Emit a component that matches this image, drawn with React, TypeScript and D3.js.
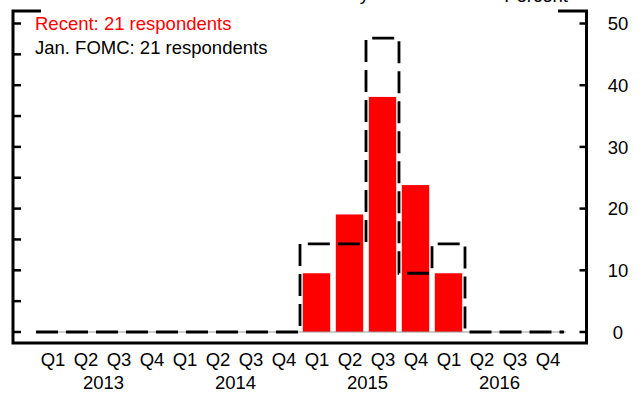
import React, { useEffect, useRef } from 'react';
import * as d3 from 'd3';

const quarters = ['Q1', 'Q2', 'Q3', 'Q4', 'Q1', 'Q2', 'Q3', 'Q4', 'Q1', 'Q2', 'Q3', 'Q4', 'Q1', 'Q2', 'Q3', 'Q4'];
const years = ['2013', '2014', '2015', '2016'];
// percent of 21 respondents
const recent = [0, 0, 0, 0, 0, 0, 0, 0, 9.52, 19.05, 38.1, 23.81, 9.52, 0, 0, 0];
const janFomc = [0, 0, 0, 0, 0, 0, 0, 0, 14.29, 14.29, 47.62, 9.52, 14.29, 0, 0, 0];
const rightTicks = [0, 10, 20, 30, 40, 50];
const leftTicks = [0, 5, 10, 15, 20, 25, 30, 35, 40, 45, 50];

export default function App() {
 const svgRef = useRef<SVGSVGElement>(null);

 useEffect(() => {
 if (!svgRef.current) return;
 const svg = d3.select(svgRef.current);
 svg.selectAll('*').remove();

 const font = 'Arial, "Liberation Sans", sans-serif';
 const fs = 18.5;
 const left = 13, right = 586.5, top = 11, bottom = 343;

 const ids = quarters.map((_, i) => i);
 const x = d3.scaleBand<number>().domain(ids).range([36, 564]).padding(0);
 const y = d3.scaleLinear().domain([0, 50]).range([332, 23.5]);
 const bw = x.bandwidth();
 const inset = bw * 0.085;

 // bars
 svg.selectAll('rect.bar')
 .data(recent)
 .enter()
 .append('rect')
 .attr('x', (_d, i) => (x(i) as number) + inset)
 .attr('width', bw - 2 * inset)
 .attr('y', d => y(d))
 .attr('height', d => y(0) - y(d))
 .attr('fill', '#ff0000');

 svg.append('line')
 .attr('x1', 36).attr('x2', 566).attr('y1', y(0)).attr('y2', y(0))
 .attr('stroke', '#999').attr('stroke-width', 1);

 // Jan. FOMC outline
 const pts: [number, number][] = janFomc.map((v, i) => [x(i) as number, y(v)]);
 pts.push([564, y(0)]);
 const line = d3.line().curve(d3.curveStepAfter);
 svg.append('path')
 .attr('d', line(pts))
 .attr('fill', 'none')
 .attr('stroke', '#000')
 .attr('stroke-width', 2.8)
 .attr('stroke-dasharray', '22,8');

 // frame
 const frame = svg.append('g').attr('stroke', '#000').attr('stroke-width', 3).attr('fill', 'none');
 frame.append('path').attr('d', `M41,${top}H${left}V${bottom}H${right}V${top}H558`);

 // ticks
 svg.selectAll('line.lt')
 .data(leftTicks)
 .enter()
 .append('line')
 .attr('x1', left).attr('x2', left + 8)
 .attr('y1', d => y(d)).attr('y2', d => y(d))
 .attr('stroke', '#000').attr('stroke-width', 2.5);
 svg.selectAll('line.rt')
 .data(rightTicks)
 .enter()
 .append('line')
 .attr('x1', right - 7).attr('x2', right)
 .attr('y1', d => y(d)).attr('y2', d => y(d))
 .attr('stroke', '#000').attr('stroke-width', 2.5);

 svg.selectAll('text.rl')
 .data(rightTicks)
 .enter()
 .append('text')
 .attr('x', 618)
 .attr('y', d => y(d))
 .attr('dy', '0.36em')
 .attr('text-anchor', 'middle')
 .attr('font-family', font).attr('font-size', fs)
 .text(d => d);

 // x labels
 svg.selectAll('text.q')
 .data(quarters)
 .enter()
 .append('text')
 .attr('x', (_d, i) => (x(i) as number) + bw / 2 + 0.5)
 .attr('y', 366)
 .attr('text-anchor', 'middle')
 .attr('font-family', font).attr('font-size', fs)
 .text(d => d);
 svg.selectAll('text.yr')
 .data(years)
 .enter()
 .append('text')
 .attr('x', (_d, i) => (x(i * 4 + 2) as number) + 1.5)
 .attr('y', 389)
 .attr('text-anchor', 'middle')
 .attr('font-family', font).attr('font-size', fs)
 .text(d => d);

 // legend
 svg.append('text').attr('x', 35).attr('y', 30)
 .attr('font-family', font).attr('font-size', fs).attr('fill', '#ff0000')
 .text('Recent: 21 respondents');
 svg.append('text').attr('x', 35).attr('y', 53.5)
 .attr('font-family', font).attr('font-size', fs).attr('fill', '#000')
 .text('Jan. FOMC: 21 respondents');

 // title line, cut off at the top
 svg.append('text').attr('x', 369).attr('y', -0.5).attr('text-anchor', 'end')
 .attr('font-family', font).attr('font-size', fs)
 .text('Probability');
 svg.append('text').attr('x', 568).attr('y', 1.7).attr('text-anchor', 'end')
 .attr('font-family', font).attr('font-size', fs)
 .text('Percent');
 }, []);

 return (
 <svg
 ref={svgRef}
 width={644}
 height={393}
 viewBox="0 0 644 393"
 style={{ position: 'absolute', left: 0, top: 0, background: '#fff' }}
 />
 );
}
